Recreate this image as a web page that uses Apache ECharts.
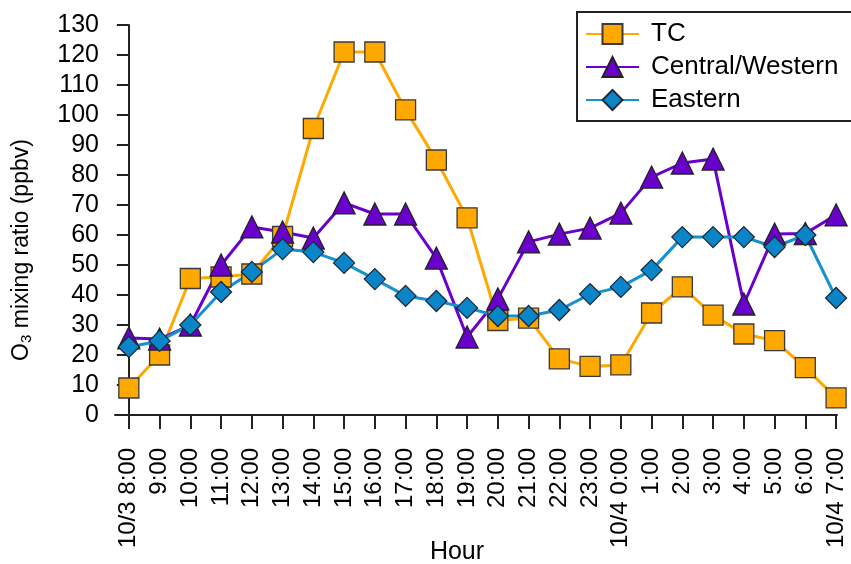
<!DOCTYPE html>
<html>
<head>
<meta charset="utf-8">
<script src="https://cdn.jsdelivr.net/npm/echarts@6/dist/echarts.min.js"></script>
<style>
html,body{margin:0;padding:0;background:#fff;}
#c{width:851px;height:564px;}
</style>
</head>
<body>
<div id="c"></div>
<script>
// ---- data ----
const hourLabels = ['10/3 8:00','9:00','10:00','11:00','12:00','13:00','14:00','15:00','16:00','17:00','18:00','19:00','20:00','21:00','22:00','23:00','10/4 0:00','1:00','2:00','3:00','4:00','5:00','6:00','10/4 7:00'];
const tcValues = [9, 20, 45.5, 46, 47, 59.5, 95.5, 121, 121, 101.7, 85, 65.7, 31.5, 32.3, 18.7, 16.2, 16.7, 34, 42.7, 33.3, 27, 24.8, 15.8, 5.7];
const cwValues = [25.7, 25.3, 30, 50, 62.7, 61, 59, 70.7, 67, 67, 52.3, 26, 38.7, 57.7, 60.3, 62.3, 67.3, 79.3, 84, 85.3, 37, 60.3, 60.5, 66.7];
const eastValues = [22.7, 24.7, 30, 41, 47.7, 55.3, 54.3, 50.7, 45.3, 39.7, 38, 35.7, 33, 33, 35, 40.3, 42.7, 48.3, 59.3, 59.3, 59.3, 56, 60, 39];
const yTicks = [0,10,20,30,40,50,60,70,80,90,100,110,120,130];

const FONT = 'Liberation Sans, Arial, sans-serif';
const xIdx = hourLabels.map((_, i) => i);
const toPts = arr => arr.map((v, i) => [i, v]);

const chart = echarts.init(document.getElementById('c'), null, {renderer: 'canvas'});
chart.setOption({
  animation: false,
  backgroundColor: '#fff',
  grid: {left: 115, right: 14, top: 25, bottom: 136, containLabel: false},
  xAxis: {
    type: 'value', min: -0.45, max: 23.03,
    axisLine: {show: true, lineStyle: {color: '#222', width: 2}},
    axisTick: {show: true, customValues: xIdx, length: 14, lineStyle: {color: '#222', width: 2}},
    axisLabel: {
      customValues: xIdx, rotate: 90, margin: 20,
      formatter: v => hourLabels[Math.round(v)],
      fontFamily: FONT, fontSize: 24, color: '#000'
    },
    splitLine: {show: false}
  },
  yAxis: {
    type: 'value', min: -4.33, max: 130,
    axisLine: {show: true, lineStyle: {color: '#222', width: 2}},
    axisTick: {show: true, customValues: yTicks, length: 12, lineStyle: {color: '#222', width: 2}},
    axisLabel: {customValues: yTicks, margin: 16, fontFamily: FONT, fontSize: 25, color: '#000'},
    splitLine: {show: false}
  },
  legend: {
    orient: 'vertical', left: 577, top: 12,
    padding: [9, 30, 8, 8],
    itemWidth: 53, itemHeight: 25, itemGap: 7,
    borderColor: '#222', borderWidth: 2,
    textStyle: {fontFamily: FONT, fontSize: 26, color: '#000', lineHeight: 26, padding: [0, 0, 0, 7]},
    data: ['TC', 'Central/Western', 'Eastern']
  },
  graphic: [
    {
      type: 'text', x: 22, y: 250, rotation: Math.PI / 2,
      style: {
        text: 'O{sub|3} mixing ratio (ppbv)',
        fontFamily: FONT, fontSize: 23, fill: '#000',
        align: 'center', verticalAlign: 'middle',
        rich: {sub: {fontFamily: FONT, fontSize: 15, fill: '#000', padding: [9, 0, 0, 0]}}
      }
    },
    {
      type: 'text', x: 457, y: 552,
      style: {text: 'Hour', fontFamily: FONT, fontSize: 25, fill: '#000', align: 'center', verticalAlign: 'middle'}
    }
  ],
  series: [
    {
      name: 'TC', type: 'line', data: toPts(tcValues),
      symbol: 'rect', symbolSize: 20,
      lineStyle: {color: '#FFA800', width: 3},
      itemStyle: {color: '#FFA800', borderColor: '#3a3a3a', borderWidth: 1.3}
    },
    {
      name: 'Central/Western', type: 'line', data: toPts(cwValues),
      symbol: 'triangle', symbolSize: 22,
      lineStyle: {color: '#6a00cc', width: 3},
      itemStyle: {color: '#6a00cc', borderColor: '#222', borderWidth: 1.3}
    },
    {
      name: 'Eastern', type: 'line', data: toPts(eastValues),
      symbol: 'diamond', symbolSize: 21,
      lineStyle: {color: '#1590d0', width: 3},
      itemStyle: {color: '#0a86c8', borderColor: '#1a2a3a', borderWidth: 1.3}
    }
  ]
});
</script>
</body>
</html>
